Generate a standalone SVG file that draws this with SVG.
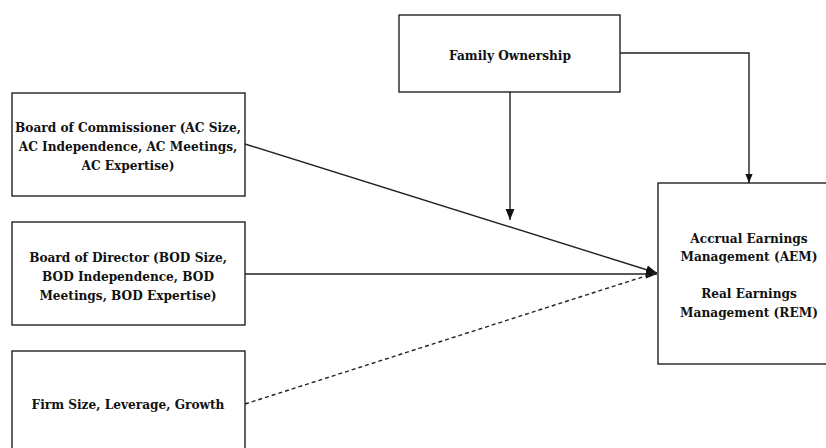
<svg xmlns="http://www.w3.org/2000/svg" width="826" height="448" viewBox="0 0 826 448">
<defs>
<style>
.box{fill:#fff;stroke:#222;stroke-width:1.4}
.t{font-family:'DejaVu Serif Condensed','DejaVu Serif',serif;font-stretch:condensed;font-weight:bold;font-size:13.5px;fill:#111;text-anchor:middle}
.c{fill:none;stroke:#222;stroke-width:1.4}
.d{stroke-dasharray:4,3}
</style>
<marker id="ah" viewBox="0 0 10 10" refX="10" refY="5" markerWidth="11" markerHeight="11" orient="auto" markerUnits="userSpaceOnUse"><path d="M0,1L10,5L0,9z" fill="#111"/></marker>
<marker id="as" viewBox="0 0 10 10" refX="10" refY="5" markerWidth="9" markerHeight="9" orient="auto" markerUnits="userSpaceOnUse"><path d="M0,1L10,5L0,9z" fill="#111"/></marker>
</defs>
<rect width="826" height="448" fill="#fff"/>
<g id="connectors">
<path class="c" d="M245,144L657,273" marker-end="url(#ah)"/>
<path class="c" d="M245,274L657,274" marker-end="url(#ah)"/>
<path class="c d" d="M245,404L655,273"/>
<path class="c" d="M510,92L510,220" marker-end="url(#ah)"/>
<path class="c" d="M620,53L749,53L749,183" marker-end="url(#as)"/>
</g>
<g id="family">
<rect class="box" x="399" y="15" width="221" height="77"/>
<text class="t" x="510" y="60">Family Ownership</text>
</g>
<g id="boc">
<rect class="box" x="12" y="93" width="233" height="103"/>
<text class="t" x="128" y="132">Board of Commissioner (AC Size,</text>
<text class="t" x="128" y="151">AC Independence, AC Meetings,</text>
<text class="t" x="128" y="170">AC Expertise)</text>
</g>
<g id="bod">
<rect class="box" x="12" y="222" width="233" height="103"/>
<text class="t" x="128" y="262">Board of Director (BOD Size,</text>
<text class="t" x="128" y="281">BOD Independence, BOD</text>
<text class="t" x="128" y="300">Meetings, BOD Expertise)</text>
</g>
<g id="firm">
<rect class="box" x="12" y="351" width="233" height="110"/>
<text class="t" x="128" y="409">Firm Size, Leverage, Growth</text>
</g>
<g id="em">
<rect class="box" x="658" y="183" width="180" height="181"/>
<text class="t" x="749" y="243">Accrual Earnings</text>
<text class="t" x="749" y="261">Management (AEM)</text>
<text class="t" x="749" y="298">Real Earnings</text>
<text class="t" x="749" y="317">Management (REM)</text>
</g>
</svg>
